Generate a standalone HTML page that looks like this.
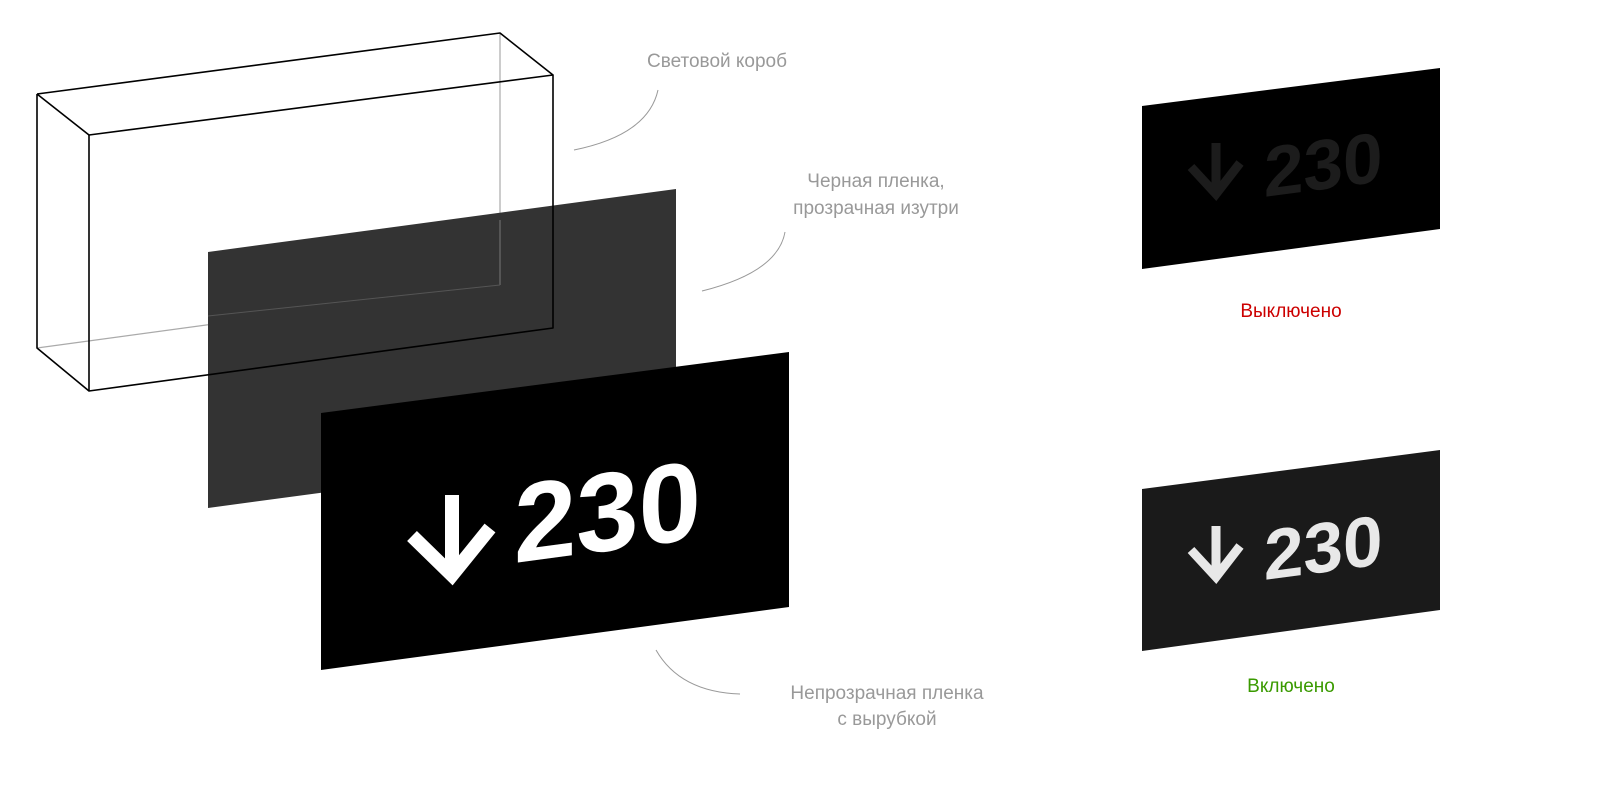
<!DOCTYPE html>
<html><head><meta charset="utf-8"><style>
html,body{margin:0;padding:0;background:#fff;}
svg{display:block;}
</style></head><body>
<svg width="1600" height="787" viewBox="0 0 1600 787" xmlns="http://www.w3.org/2000/svg" font-family="'Liberation Sans', sans-serif">
<!-- back faint edges -->
<line x1="500" y1="33" x2="500" y2="285" stroke="#999" stroke-width="1"/>
<line x1="37" y1="348" x2="500" y2="285" stroke="#aaa" stroke-width="1.2"/>
<!-- dark gray plane -->
<polygon points="208,252 676,189 676,445 208,508" fill="#333"/>
<line x1="500" y1="220" x2="500" y2="285" stroke="#777" stroke-width="1"/>
<line x1="208" y1="316" x2="500" y2="285" stroke="#555" stroke-width="1"/>
<!-- box visible edges -->
<g fill="none" stroke="#000" stroke-width="1.6" stroke-linejoin="round">
<polyline points="37,94 500,33 553,75"/>
<polyline points="37,94 89,135 553,75 553,328 89,391 37,348 37,94"/>
<line x1="89" y1="135" x2="89" y2="391"/>
</g>
<!-- black plane -->
<polygon points="321,413 789,352 789,607 321,670" fill="#000"/>
<g transform="translate(452,0)">
<path d="M0,495 L0,574 M-40,536 L0,575 L38,528" fill="none" stroke="#fff" stroke-width="14" stroke-linejoin="miter"/>
</g>
<g transform="translate(514,563) matrix(1,-0.1346,0,1,0,0)">
<text x="0" y="0" font-size="112" font-weight="bold" fill="#fff">230</text>
</g>
<!-- right top panel -->
<polygon points="1142,106 1440,68 1440,229 1142,269" fill="#000"/>
<g transform="translate(1216,0)">
<path d="M0,143 L0,193 M-25,167 L0,194 L24,163" fill="none" stroke="#1c1c1c" stroke-width="9"/>
</g>
<g transform="translate(1264,197) matrix(1,-0.1346,0,1,0,0)">
<text x="0" y="0" font-size="71" font-weight="bold" fill="#1c1c1c">230</text>
</g>
<!-- right bottom panel -->
<polygon points="1142,489 1440,450 1440,610 1142,651" fill="#1a1a1a"/>
<g transform="translate(1216,0)">
<path d="M0,526 L0,576 M-25,550 L0,577 L24,546" fill="none" stroke="#e8e8e8" stroke-width="9"/>
</g>
<g transform="translate(1264,580) matrix(1,-0.1346,0,1,0,0)">
<text x="0" y="0" font-size="71" font-weight="bold" fill="#e8e8e8">230</text>
</g>
<!-- callout curves -->
<g fill="none" stroke="#999" stroke-width="1">
<path d="M574,150 Q648,135 658,90"/>
<path d="M702,291 Q778,272 785,232"/>
<path d="M656,650 Q680,692 740,694"/>
</g>
<g font-size="19" fill="#999" text-anchor="middle">
<text x="717" y="67">Световой короб</text>
<text x="876" y="187">Черная пленка,</text>
<text x="876" y="214">прозрачная изутри</text>
<text x="887" y="699">Непрозрачная пленка</text>
<text x="887" y="725">с вырубкой</text>
</g>
<text x="1291" y="317" font-size="19" fill="#cc0000" text-anchor="middle">Выключено</text>
<text x="1291" y="692" font-size="19" fill="#3a9a00" text-anchor="middle">Включено</text>
</svg>
</body></html>
